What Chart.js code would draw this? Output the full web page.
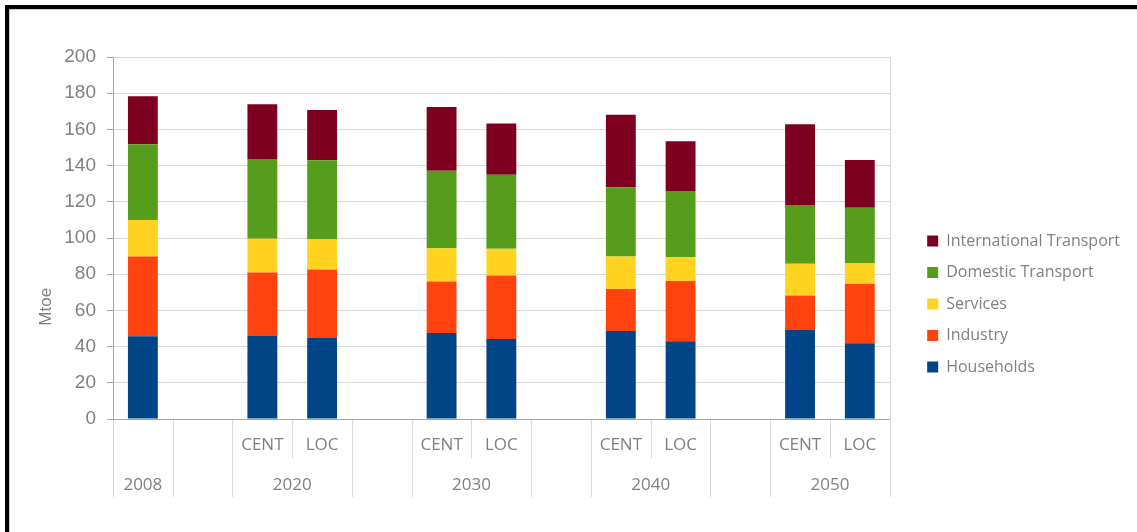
<!DOCTYPE html>
<html>
<head>
<meta charset="utf-8">
<script src="https://cdn.jsdelivr.net/npm/chart.js@4"></script>
<style>
  html, body { margin: 0; padding: 0; background: #fff; }
  .frame { position: absolute; left: 5px; top: 5px; width: 1200px; height: 600px;
           border-left: 4px solid #000; border-top: 4px solid #000; }
  .frame > div { width: 100%; height: 100%; border-left: 1px solid #c8c8c8; border-top: 1px solid #c8c8c8; }
  #wrap { position: absolute; left: 0; top: 0; width: 1137px; height: 532px; }
</style>
</head>
<body>
<div class="frame"><div></div></div>
<div id="wrap"><canvas id="energy-chart"></canvas></div>
<script>
// bottom row: one slot per bar (blank slots are the gaps between years; 2008 has no scenario)
const categories = ['', '', 'CENT', 'LOC', '', 'CENT', 'LOC', '', 'CENT', 'LOC', '', 'CENT', 'LOC'];
// second row: year groups and how many slots each one spans
const groupLabels = ['2008', '', '2020', '', '2030', '', '2040', '', '2050'];
const groupSpans = [1, 1, 2, 1, 2, 1, 2, 1, 2];

const households    = [45.7, null, 46.2, 44.8, null, 47.5, 44.2, null, 48.6, 42.9, null, 49.4, 41.8];
const industry      = [44.1, null, 34.8, 37.8, null, 28.5, 35.1, null, 23.2, 33.3, null, 18.9, 32.9];
const services      = [20.1, null, 18.6, 16.8, null, 18.4, 14.7, null, 18.0, 13.3, null, 17.5, 11.5];
const domestic      = [41.9, null, 44.1, 43.6, null, 42.8, 41.0, null, 38.3, 36.4, null, 32.5, 30.5];
const international = [26.5, null, 30.2, 27.7, null, 35.2, 28.2, null, 40.0, 27.5, null, 44.5, 26.4];

const yMin = 0, yMax = 200, yStep = 20;
const yTitle = 'Mtoe';

const GREY_TEXT = '#808080';
const AXIS = '#a6a6a6';
const GRID = '#d9d9d9';

// centre of each year group, in slot units
const groupCenters = [];
let slot = 0;
groupSpans.forEach(s => { groupCenters.push(slot + (s - 1) / 2); slot += s; });

// vertical separators under the axis + the y title
const separators = {
    id: 'separators',
    afterDraw(chart) {
        const { ctx, chartArea } = chart;
        const x = chart.scales.x, x2 = chart.scales.x2, y = chart.scales.y;
        const w = x.width / categories.length;
        const groupEdges = new Set();
        let pos = 0;
        groupSpans.forEach(s => { groupEdges.add(pos); pos += s; });
        groupEdges.add(pos);

        ctx.save();
        ctx.strokeStyle = GRID;
        ctx.lineWidth = 1;
        for (let b = 0; b <= categories.length; b++) {
            const px = Math.round(x.left + b * w) + 0.5;
            const y0 = b === categories.length ? chartArea.top : chartArea.bottom + 1;
            const y1 = groupEdges.has(b) ? x2.bottom : x.bottom;
            ctx.beginPath();
            ctx.moveTo(px, y0);
            ctx.lineTo(px, y1);
            ctx.stroke();
        }

        ctx.translate(y.left + 46, chartArea.top + chartArea.height * 0.69);
        ctx.rotate(-Math.PI / 2);
        ctx.font = '17px "Liberation Sans"';
        ctx.fillStyle = GREY_TEXT;
        ctx.textAlign = 'center';
        ctx.textBaseline = 'middle';
        ctx.fillText(yTitle, 0, 0);
        ctx.restore();
    }
};

// nudge the legend to where the original sits
const legendShift = {
    id: 'legendShift',
    afterLayout(chart) {
        const lg = chart.legend;
        lg.left += 22; lg.right += 22;
        lg.top += 27; lg.bottom += 27;
    }
};

new Chart(document.getElementById('energy-chart'), {
    type: 'bar',
    data: {
        labels: categories,
        datasets: [
            { label: 'Households', data: households, backgroundColor: '#004586' },
            { label: 'Industry', data: industry, backgroundColor: '#ff420e' },
            { label: 'Services', data: services, backgroundColor: '#ffd320' },
            { label: 'Domestic Transport', data: domestic, backgroundColor: '#579d1c' },
            { label: 'International Transport', data: international, backgroundColor: '#7e0021' }
        ]
    },
    options: {
        responsive: true,
        maintainAspectRatio: false,
        animation: false,
        datasets: { bar: { categoryPercentage: 1, barPercentage: 0.5 } },
        layout: { padding: { top: 57, right: 29, bottom: 35, left: 0 } },
        scales: {
            y: {
                stacked: true,
                min: yMin, max: yMax,
                ticks: { stepSize: yStep, color: GREY_TEXT, padding: 11,
                         font: { family: '"Liberation Sans", Arial', size: 19 } },
                grid: { color: GRID, tickColor: AXIS, tickLength: 6 },
                border: { color: AXIS },
                afterFit: s => { s.width = 113; }
            },
            x: {
                stacked: true,
                offset: true,
                ticks: { color: GREY_TEXT, padding: 16, autoSkip: false, maxRotation: 0,
                         font: { family: '"Open Sans"', size: 17 } },
                grid: { display: true, drawOnChartArea: false, drawTicks: false },
                border: { color: AXIS },
                afterFit: s => { s.height = 39; }
            },
            x2: {
                type: 'linear',
                position: 'bottom',
                offset: false,
                min: -0.5, max: categories.length - 0.5,
                afterBuildTicks: s => { s.ticks = groupCenters.map(v => ({ value: v })); },
                ticks: { color: GREY_TEXT, padding: 9, autoSkip: false, maxRotation: 0,
                         font: { family: '"Open Sans"', size: 17 },
                         callback: (v, i) => groupLabels[i] },
                grid: { display: false },
                border: { display: false },
                afterFit: s => { s.height = 39; }
            }
        },
        plugins: {
            tooltip: { enabled: false },
            legend: {
                position: 'right',
                reverse: true,
                labels: { boxWidth: 11, boxHeight: 11, padding: 15.5, color: GREY_TEXT,
                          font: { family: '"Open Sans"', size: 16 } }
            }
        }
    },
    plugins: [separators, legendShift]
});
</script>
</body>
</html>
